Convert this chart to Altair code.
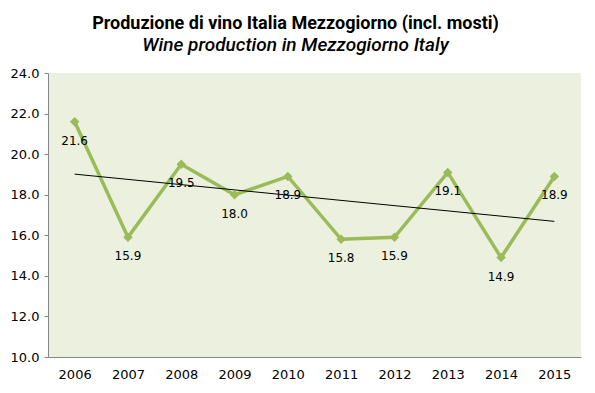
import altair as alt
import pandas as pd

years = [2006, 2007, 2008, 2009, 2010, 2011, 2012, 2013, 2014, 2015]
values = [21.6, 15.9, 19.5, 18.0, 18.9, 15.8, 15.9, 19.1, 14.9, 18.9]
y_ticks = [10, 12, 14, 16, 18, 20, 22, 24]

df = pd.DataFrame({"year": years, "value": values})

GREEN = "#9BBB59"
AXIS_FONT = "DejaVu Sans"
TITLE_FONT = "Roboto"

x = alt.X("year:Q",
          scale=alt.Scale(domain=[2005.5, 2015.5], nice=False, zero=False),
          axis=alt.Axis(values=years, format="d", title=None, grid=False, ticks=False,
                        labelFont=AXIS_FONT, labelFontSize=13, labelColor="#000000",
                        labelPadding=11, domainColor="#868686", domainWidth=1))
y = alt.Y("value:Q",
          scale=alt.Scale(domain=[10, 24], nice=False, zero=False),
          axis=alt.Axis(values=y_ticks, format=".1f", title=None, grid=False,
                        tickSize=4, tickColor="#868686", domainColor="#868686",
                        labelFont=AXIS_FONT, labelFontSize=13, labelColor="#000000",
                        labelPadding=5))

base = alt.Chart(df)

line = base.mark_line(color=GREEN, strokeWidth=3.5).encode(x=x, y=y)
points = base.mark_point(shape="diamond", filled=True, color=GREEN, size=90, opacity=1).encode(x=x, y=y)
trend = base.transform_regression("year", "value").mark_line(color="#000000", strokeWidth=1).encode(x=x, y=y)
labels = base.mark_text(dy=19, font=AXIS_FONT, fontSize=12, color="#000000").encode(
    x=x, y=y, text=alt.Text("value:Q", format=".1f"))

chart = alt.layer(line, trend, points, labels).properties(
    width=533, height=284,
    autosize=alt.AutoSizeParams(type="none"),
    padding={"left": 40, "top": 65, "right": 6, "bottom": 28},
    title=alt.TitleParams(
        text="Produzione di vino Italia Mezzogiorno (incl. mosti)",
        subtitle="Wine production in Mezzogiorno Italy",
        font=TITLE_FONT, fontSize=18, fontWeight="bold", color="#000000",
        subtitleFont=TITLE_FONT, subtitleFontSize=19, subtitleFontStyle="italic",
        subtitleFontWeight=500, subtitleColor="#000000",
        subtitlePadding=3, anchor="middle", dx=-19, offset=12,
    ),
).configure_view(fill="#EBF1DE", stroke=None)

chart.save("out.html", embed_options={"renderer": "svg", "actions": False})
